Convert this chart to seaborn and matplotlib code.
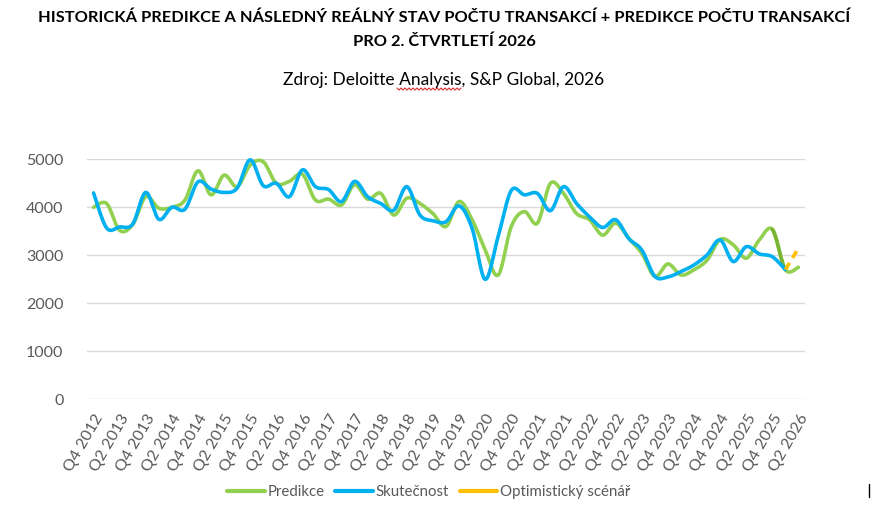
import numpy as np
import matplotlib
matplotlib.use('Agg')
import matplotlib.pyplot as plt
import seaborn as sns
from matplotlib.lines import Line2D

# DATA
ctvrtleti = (
    ['Q4 2012']
    + [f'Q{q} {r}' for r in range(2013, 2026) for q in range(1, 5)]
    + ['Q1 2026', 'Q2 2026']
)

predikce = [4000, 4080, 3520, 3640, 4220, 3980, 4000, 4150, 4760, 4260,
            4670, 4430, 4880, 4950, 4500, 4540, 4690, 4150, 4170, 4050,
            4470, 4170, 4290, 3840, 4190, 4080, 3870, 3600, 4120, 3740,
            3110, 2590, 3600, 3910, 3670, 4500, 4290, 3870, 3740, 3420,
            3670, 3350, 3040, 2560, 2820, 2590, 2700, 2900, 3330, 3220,
            2940, 3320, 3540, 2700, 2750]

skutecnost = [4300, 3570, 3590, 3650, 4310, 3750, 4000, 3960, 4530, 4380,
              4310, 4400, 4990, 4450, 4500, 4220, 4780, 4430, 4370, 4120,
              4540, 4220, 4080, 3940, 4430, 3840, 3720, 3700, 4030, 3560,
              2500, 3400, 4350, 4260, 4290, 3930, 4430, 4080, 3800, 3580,
              3740, 3350, 3110, 2560, 2550, 2660, 2800, 3010, 3320, 2870,
              3180, 3030, 2970, 2700]

optimisticky = {'Q1 2026': 2700, 'Q2 2026': 3150}

y_ticks = [0, 1000, 2000, 3000, 4000, 5000]

GREEN = '#92D050'
GREEN_DARK = '#7AB434'
BLUE = '#00B0F0'
ORANGE = '#FFC000'
GRAY = '#595959'
W, H = 889, 507


def smooth(vals, n=20):
    # Excel-like smoothed line (Catmull-Rom bezier)
    x = np.arange(len(vals), dtype=float)
    y = np.asarray(vals, dtype=float)
    xs, ys = [], []
    for i in range(len(y) - 1):
        p0 = max(i - 1, 0)
        p3 = min(i + 2, len(y) - 1)
        c1x = x[i] + (x[i + 1] - x[p0]) / 6
        c1y = y[i] + (y[i + 1] - y[p0]) / 6
        c2x = x[i + 1] - (x[p3] - x[i]) / 6
        c2y = y[i + 1] - (y[p3] - y[i]) / 6
        t = np.linspace(0, 1, n, endpoint=(i == len(y) - 2))
        a = (1 - t) ** 3
        b = 3 * (1 - t) ** 2 * t
        c = 3 * (1 - t) * t ** 2
        d = t ** 3
        xs.append(a * x[i] + b * c1x + c * c2x + d * x[i + 1])
        ys.append(a * y[i] + b * c1y + c * c2y + d * y[i + 1])
    return np.concatenate(xs), np.concatenate(ys)


sns.set_theme(style='white')
plt.rcParams['font.family'] = ['Lato', 'DejaVu Sans']

fig = plt.figure(figsize=(W / 100, H / 100), dpi=100)
ax = fig.add_axes([87 / W, 1 - 399.3 / H, 718 / W, 240 / H])

lw = 2.6
px, py = smooth(predikce)
sns.lineplot(x=px, y=py, ax=ax, color=GREEN, lw=lw, sort=False, estimator=None, clip_on=False)
# posledni usek predikce tmavsi
seg = (px >= 52) & (px <= 53)
sns.lineplot(x=px[seg], y=py[seg], ax=ax, color=GREEN_DARK, lw=lw, sort=False, estimator=None)

sx, sy = smooth(skutecnost)
sns.lineplot(x=sx, y=sy, ax=ax, color=BLUE, lw=lw, sort=False, estimator=None, clip_on=False)

ox = [ctvrtleti.index(k) for k in optimisticky]
sns.lineplot(x=ox, y=list(optimisticky.values()), ax=ax, color=ORANGE, lw=lw,
             sort=False, estimator=None, dashes=False, linestyle=(0, (2.2, 1.6)))

ax.set_xlim(-0.5, len(ctvrtleti) - 0.5)
ax.set_ylim(0, 5000)
ax.set_yticks(y_ticks)
ax.set_yticklabels([str(v) for v in y_ticks], fontsize=11.5, color=GRAY)
ax.yaxis.grid(True, color='#D9D9D9', lw=1)
ax.xaxis.grid(False)
for s in ax.spines.values():
    s.set_visible(False)
ax.tick_params(axis='y', length=0, pad=17)

tick_pos = list(range(0, len(ctvrtleti), 2))
ax.set_xticks(tick_pos)
ax.set_xticklabels([ctvrtleti[i] for i in tick_pos], rotation=60, ha='right',
                   va='top', rotation_mode='anchor', fontsize=11.5, color=GRAY)
ax.tick_params(axis='x', length=0, pad=9)

fig.text(0.5, 1 - 18 / H, 'HISTORICKÁ PREDIKCE A NÁSLEDNÝ REÁLNÝ STAV POČTU TRANSAKCÍ + PREDIKCE POČTU TRANSAKCÍ',
         ha='center', va='center', fontsize=11.8, fontweight='bold', color='black')
fig.text(0.5, 1 - 42 / H, 'PRO 2. ČTVRTLETÍ 2026',
         ha='center', va='center', fontsize=11.8, fontweight='bold', color='black')
fig.text(443.5 / W, 1 - 80 / H, 'Zdroj: Deloitte Analysis, S&P Global, 2026',
         ha='center', va='center', fontsize=12.5, color='black')

# cervene podtrzeni (kontrola pravopisu) pod "Analysis"
zx = np.arange(397, 463, 2)
zy = 1 - (89 + np.where(np.arange(len(zx)) % 2 == 0, -1, 1)) / H
fig.add_artist(Line2D(zx / W, zy, color='#E03030', lw=0.8))
# svisla znacka vpravo dole
fig.add_artist(Line2D([869 / W, 869 / W], [1 - 484 / H, 1 - 497 / H], color='black', lw=1))

handles = [Line2D([], [], color=GREEN, lw=3),
           Line2D([], [], color=BLUE, lw=3),
           Line2D([], [], color=ORANGE, lw=3)]
fig.legend(handles, ['Predikce', 'Skutečnost', 'Optimistický scénář'],
           loc='center', bbox_to_anchor=(429 / W, 1 - 492 / H), ncol=3, frameon=False,
           fontsize=10.8, labelcolor=GRAY, handlelength=2.5, handletextpad=0.2, columnspacing=0.7)

fig.savefig('out.png', dpi=100)
